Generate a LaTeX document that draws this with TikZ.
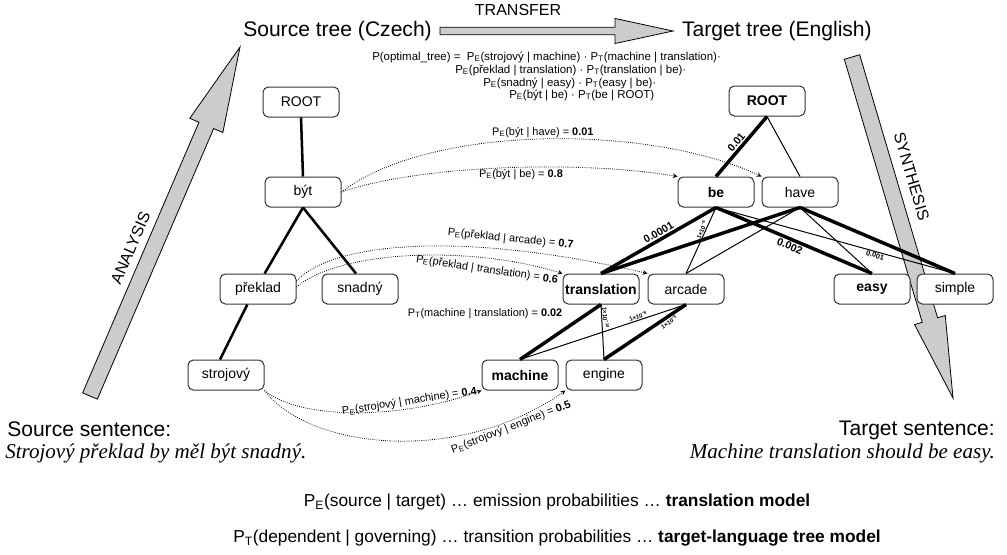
\documentclass[tikz,border=0pt]{standalone}
\usepackage{fontspec}
\setmainfont{Liberation Sans}
\newfontfamily\sentfont{Liberation Serif}
\usetikzlibrary{arrows,calc}

\tikzset{
  word/.style={draw=black!80, line width=0.75pt, rounded corners=4pt, fill=white,
    minimum width=57pt, minimum height=22.5pt, inner sep=0pt, font=\fontsize{10.5}{12}\selectfont},
  keyword/.style={word, font=\fontsize{10.5}{12}\selectfont\bfseries},
  dep/.style={line width=1.9pt},
  strong/.style={line width=2.6pt},
  weak/.style={line width=0.75pt},
  emit/.style={->, >=stealth, densely dotted, line width=0.6pt},
  emitlabel/.style={font=\fontsize{8.2}{9}\selectfont, inner sep=1pt},
  prob/.style={font=\fontsize{8}{9}\selectfont\bfseries, inner sep=1pt},
  smallprob/.style={font=\fontsize{5.5}{6}\selectfont\bfseries, inner sep=0.5pt},
  tinyprob/.style={font=\fontsize{4.5}{5}\selectfont\bfseries, inner sep=0.5pt},
  bigarrow/.style={fill=black!20, draw=black, line width=0.6pt},
  arrowlabel/.style={font=\fontsize{12}{14}\selectfont, inner sep=0pt},
  heading/.style={font=\fontsize{15.8}{18}\selectfont, inner sep=0pt},
  sentence/.style={font=\sentfont\itshape\fontsize{15.8}{18}\selectfont, inner sep=0pt},
  formula/.style={font=\fontsize{8.6}{10}\selectfont, inner sep=0pt, anchor=base west},
  legend/.style={font=\fontsize{13}{15}\selectfont, inner sep=0pt},
}

% tail, tip, shaft half width, head half width, head length
\newcommand{\blockarrow}[5]{%
  \coordinate (tmp-h) at ($(#2)!#5!(#1)$);
  \filldraw[bigarrow] ($(#1)!#3!90:(#2)$) -- ($(tmp-h)!#3!90:(#2)$) -- ($(tmp-h)!#4!90:(#2)$)
    -- (#2) -- ($(tmp-h)!#4!-90:(#2)$) -- ($(tmp-h)!#3!-90:(#2)$) -- ($(#1)!#3!-90:(#2)$) -- cycle;
}

\begin{document}
\begin{tikzpicture}[x=0.75pt, y=-0.75pt]
\useasboundingbox (0,0) rectangle (1007,554);

% BIG ARROWS
\coordinate (ana-tail) at (90,396);
\coordinate (ana-tip) at (240,47);
\blockarrow{ana-tail}{ana-tip}{6pt}{13.5pt}{64pt}
\path (ana-tail) -- (ana-tip) node[arrowlabel, pos=0.4, sloped, above=11.5pt] {ANALYSIS};

\coordinate (syn-tail) at (852,57);
\coordinate (syn-tip) at (953,398);
\blockarrow{syn-tail}{syn-tip}{6pt}{12pt}{61pt}
\path (syn-tail) -- (syn-tip) node[arrowlabel, pos=0.37, sloped, above=13pt] {SYNTHESIS};

\coordinate (tra-tail) at (440,31);
\coordinate (tra-tip) at (673,31);
\blockarrow{tra-tail}{tra-tip}{2.8pt}{9.4pt}{43.5pt}
\path (tra-tail) -- (tra-tip) node[arrowlabel, pos=0.335, above=11pt] {TRANSFER};

% TITLES AND FORMULA
\node[heading, anchor=base west] (srctitle) at (243,36) {Source tree (Czech)};
\node[heading, anchor=base east] (tgttitle) at (872,36) {Target tree (English)};
\node[formula] (f1) at (372,60) {P(optimal\_tree) = \ P\textsubscript{E}(strojový | machine) · P\textsubscript{T}(machine | translation)·};
\node[formula] (f2) at (455,73) {P\textsubscript{E}(překlad | translation) · P\textsubscript{T}(translation | be)·};
\node[formula] (f3) at (483,86) {P\textsubscript{E}(snadný | easy) · P\textsubscript{T}(easy | be)·};
\node[formula] (f4) at (509,98) {P\textsubscript{E}(být | be) · P\textsubscript{T}(be | ROOT)};

% SOURCE TREE
\node[word] (sroot) at (301,102) {ROOT};
\node[word] (byt) at (303,192) {být};
\node[word] (preklad) at (258,289) {překlad};
\node[word] (snadny) at (360,289) {snadný};
\node[word] (strojovy) at (226,375) {strojový};

\draw[dep] (sroot.south) -- (byt.north);
\draw[dep] (byt.south) -- ([xshift=5pt]preklad.north);
\draw[dep] (byt.south) -- ([xshift=-3pt]snadny.north);
\draw[dep] ([xshift=-8pt]preklad.south) -- ([xshift=-4.5pt]strojovy.north);

% TARGET TREE
\node[keyword] (troot) at (767,101) {ROOT};
\node[keyword] (be) at (716,192) {be};
\node[word] (have) at (800,192) {have};
\node[keyword] (translation) at (601,289) {translation};
\node[word] (arcade) at (686,289) {arcade};
\node[keyword] (machine) at (520,375) {machine};
\node[word] (engine) at (604,375) {engine};
\node[keyword] (easy) at (872,289) {easy};
\node[word] (simple) at (955,289) {simple};

\draw[strong] (troot.south) -- (be.north) node[prob, midway, sloped, above] {0.01};
\draw[weak] (troot.south) -- (have.north);
\draw[strong] (be.south) -- (translation.north) node[prob, pos=0.47, sloped, above] {0.0001};
\draw[weak] (be.south) -- (arcade.north) node[tinyprob, pos=0.36, sloped, above] {1×10\textsuperscript{−6}};
\draw[strong] (be.south) -- (easy.north) node[prob, pos=0.49, sloped, below] {0.002};
\draw[weak] (be.south) -- (simple.north) node[smallprob, pos=0.67, sloped, below] {0.001};
\draw[strong] (have.south) -- (translation.north);
\draw[weak] (have.south) -- (arcade.north);
\draw[weak] (have.south) -- (easy.north);
\draw[strong] (have.south) -- (simple.north);
\draw[strong] (translation.south) -- (machine.north)
  node[emitlabel, pos=0.16, left=17pt] {P\textsubscript{T}(machine | translation) = \textbf{0.02}};
\draw[weak] (translation.south) -- (engine.north) node[tinyprob, pos=0.25, sloped, above] {1×10\textsuperscript{−10}};
\draw[weak] (arcade.south) -- (machine.north) node[tinyprob, pos=0.28, sloped, above] {1×10\textsuperscript{−6}};
\draw[strong] (arcade.south) -- (engine.north) node[tinyprob, pos=0.24, sloped, below] {1×10\textsuperscript{−6}};

% EMISSIONS
\draw[emit] (byt.east) .. controls (430,124) and (650,124) .. (have.north west)
  node[emitlabel, pos=0.5, above] {P\textsubscript{E}(být | have) = \textbf{0.01}};
\draw[emit] (byt.east) .. controls (420,165) and (580,160) .. (be.north west)
  node[emitlabel, pos=0.55, below=0pt] {P\textsubscript{E}(být | be) = \textbf{0.8}};
\draw[emit] ([yshift=6pt]preklad.east) .. controls (335,240) and (470,232) .. (arcade.north west)
  node[emitlabel, pos=0.72, sloped, above=3pt] {P\textsubscript{E}(překlad | arcade) = \textbf{0.7}};
\draw[emit] ([yshift=1.5pt]preklad.east) .. controls (340,250) and (470,245) .. (translation.north west);
\node[emitlabel, rotate=-8.5] (translabel) at (487,270) {P\textsubscript{E}(překlad | translation) = \textbf{0.6}};
\draw[emit] (strojovy.south east) .. controls (300,420) and (400,420) .. (machine.south west)
  node[emitlabel, pos=0.72, sloped, above] {P\textsubscript{E}(strojový | machine) = \textbf{0.4}};
\draw[emit] (strojovy.south east) .. controls (310,450) and (460,465) .. (engine.south west)
  node[emitlabel, pos=0.83, sloped, below=0pt] {P\textsubscript{E}(strojový | engine) = \textbf{0.5}};

% SENTENCES
\node[heading, anchor=base west] (srcsent) at (7,436) {Source sentence:};
\node[sentence, anchor=base west] (srcitalic) at (5,458) {Strojový překlad by měl být snadný.};
\node[heading, anchor=base east] (tgtsent) at (995,435) {Target sentence:};
\node[sentence, anchor=base east] (tgtitalic) at (995,458) {Machine translation should be easy.};

% LEGEND
\node[legend] (leg1) at (557,502) {P\textsubscript{E}(source | target) … emission probabilities … \textbf{translation model}};
\node[legend] (leg2) at (557,538) {P\textsubscript{T}(dependent | governing) … transition probabilities … \textbf{target-language tree model}};

\end{tikzpicture}
\end{document}
